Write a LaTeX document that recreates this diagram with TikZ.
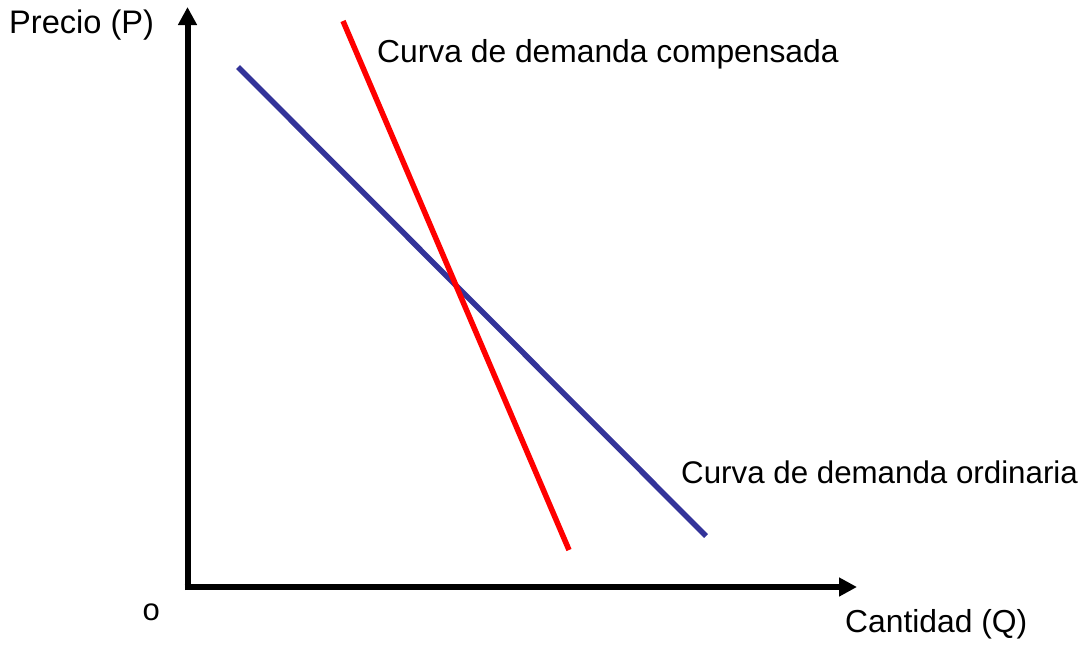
\documentclass[tikz,border=0pt]{standalone}
\usepackage{fontspec}
\setmainfont{Liberation Sans}
\usetikzlibrary{arrows.meta}
\definecolor{ordblue}{HTML}{333399}
\definecolor{compred}{HTML}{FF0000}
\begin{document}
\begin{tikzpicture}[x=1pt,y=-1pt,
  axis/.style={line width=6pt,-{Triangle[width=18pt,length=18pt]}},
  curve/.style={line width=5.5pt},
  lbl/.style={inner sep=0pt,anchor=base west,font=\fontsize{31.8}{38}\selectfont}]
\useasboundingbox (0,0) rectangle (1087,648);
\coordinate (orig) at (187.5,587);
\coordinate (ytop) at (187.5,7);
\coordinate (xend) at (857,587);
\draw[axis] (187.5,590) -- (ytop);
\draw[axis] (184.5,587) -- (xend);
\coordinate (b1) at (238,67);
\coordinate (b2) at (706,536);
\coordinate (r1) at (343,21);
\coordinate (r2) at (569,550);
\draw[curve,ordblue] (b1) -- (b2);
\draw[curve,compred] (r1) -- (r2);
\node[lbl,font=\fontsize{32.6}{38}\selectfont] (py) at (9,33.5) {Precio (P)};
\node[lbl] (comp) at (377,62.5) {Curva de demanda compensada};
\node[lbl,font=\fontsize{31.3}{38}\selectfont] (ord) at (681,483) {Curva de demanda ordinaria};
\node[lbl] (qx) at (845,632) {Cantidad (Q)};
\node[lbl,font=\fontsize{31}{36}\selectfont] (o) at (142.5,620) {o};
\end{tikzpicture}
\end{document}
